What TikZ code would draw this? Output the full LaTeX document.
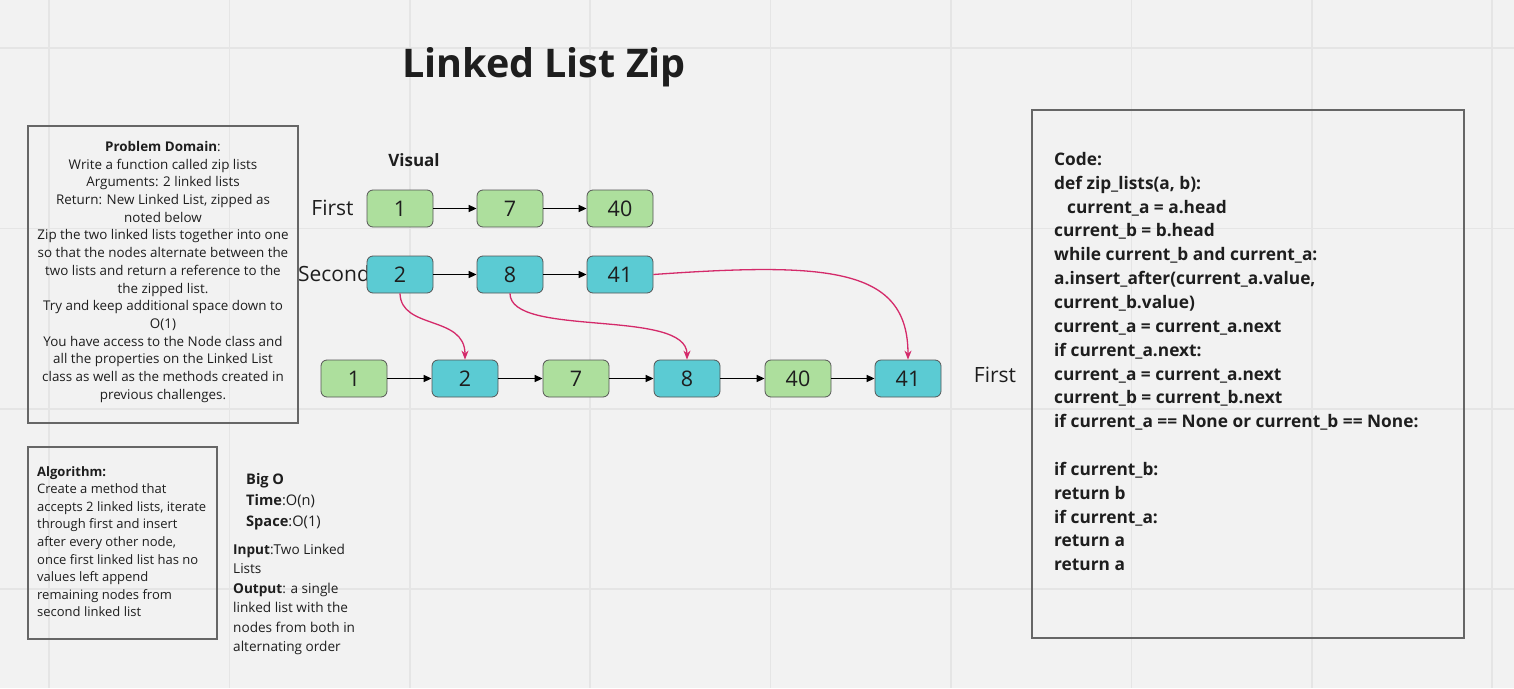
\documentclass[tikz,border=0pt]{standalone}
\usepackage{fontspec}
\setmainfont{Open Sans}
\usetikzlibrary{arrows.meta}
\definecolor{bg}{HTML}{F2F2F2}
\definecolor{gridc}{HTML}{E5E5E5}
\definecolor{gfill}{HTML}{ADDF9D}
\definecolor{cfill}{HTML}{5BCBD3}
\definecolor{nborder}{HTML}{555555}
\definecolor{bborder}{HTML}{666666}
\definecolor{pinkc}{HTML}{D42A6A}
\definecolor{txt}{HTML}{1E1E1E}
\tikzset{
  lnode/.style={draw=nborder, line width=0.8pt, rounded corners=6pt, minimum width=66pt, minimum height=37pt, inner sep=0pt, font=\fontsize{21.5}{24}\selectfont, text=txt},
  gnode/.style={lnode, fill=gfill},
  cnode/.style={lnode, fill=cfill},
  nxt/.style={-{Triangle[length=8pt,width=7pt]}, line width=1.5pt, black},
  zip/.style={-{Stealth[length=9pt,width=7pt]}, line width=1.3pt, pinkc},
  infobox/.style={draw=bborder, line width=1.2pt},
  lbl/.style={font=\fontsize{21}{24}\selectfont, text=txt, inner sep=0pt},
}
\begin{document}
\begin{tikzpicture}[x=1pt,y=-1pt]
\fill[bg] (0,0) rectangle (1514,688);
\useasboundingbox (0,0) rectangle (1514,688);
\foreach \gx in {49,229.4,409.8,590.2,770.6,951,1131.4,1311.8,1492.2}
  \draw[gridc, line width=1.5pt] (\gx,0) -- (\gx,688);
\foreach \gy in {48,228.4,408.8,589.2}
  \draw[gridc, line width=1.5pt] (0,\gy) -- (1514,\gy);

% title
\node[font=\fontsize{39.5}{46}\selectfont\bfseries, text=txt, inner sep=0pt] (title) at (544,67) {Linked List Zip};

% problem domain
\draw[infobox] (28,126) rectangle (298,423);
\node[anchor=north, align=center, inner sep=0pt, text=txt, font=\fontsize{13.4}{17.71}\selectfont] (prob) at (163,141) {%
\textbf{Problem Domain}:\\
Write a function called zip lists\\
Arguments: 2 linked lists\\
Return: New Linked List, zipped as\\
noted below\\
Zip the two linked lists together into one\\
so that the nodes alternate between the\\
two lists and return a reference to the\\
the zipped list.\\
Try and keep additional space down to\\
O(1)\\
You have access to the Node class and\\
all the properties on the Linked List\\
class as well as the methods created in\\
previous challenges.};

% algorithm
\draw[infobox] (28,447) rectangle (217,639);
\node[anchor=north west, align=left, inner sep=0pt, text=txt, font=\fontsize{13}{17.6}\selectfont] (algo) at (37,466) {%
\textbf{Algorithm:}\\
Create a method that\\
accepts 2 linked lists, iterate\\
through first and insert\\
after every other node,\\
once first linked list has no\\
values left append\\
remaining nodes from\\
second linked list};

% big O
\node[anchor=north west, align=left, inner sep=0pt, text=txt, font=\fontsize{14.6}{21}\selectfont] (bigo) at (246,473) {%
\textbf{Big O}\\
\textbf{Time}:O(n)\\
\textbf{Space}:O(1)};
\node[anchor=north west, align=left, inner sep=0pt, text=txt, font=\fontsize{13.6}{19.4}\selectfont] (io) at (233,544) {%
\textbf{Input}:Two Linked\\
Lists\\
\textbf{Output}: a single\\
linked list with the\\
nodes from both in\\
alternating order};

% visual
\node[font=\fontsize{17}{20}\selectfont\bfseries, text=txt, inner sep=0pt] (vis) at (414,160) {Visual};
\node[lbl] (first1) at (332.5,208) {First};
\node[lbl] (second) at (334,274) {Second};
\node[lbl] (first2) at (995,375) {First};

\node[gnode] (a1) at (400,208.5) {1};
\node[gnode] (a7) at (510,208.5) {7};
\node[gnode] (a40) at (620,208.5) {40};
\node[cnode] (b2) at (400,274.5) {2};
\node[cnode] (b8) at (510,274.5) {8};
\node[cnode] (b41) at (620,274.5) {41};
\draw[nxt] (a1) -- (a7);
\draw[nxt] (a7) -- (a40);
\draw[nxt] (b2) -- (b8);
\draw[nxt] (b8) -- (b41);

\node[gnode] (c1) at (354,378.5) {1};
\node[cnode] (c2) at (465,378.5) {2};
\node[gnode] (c7) at (576,378.5) {7};
\node[cnode] (c8) at (687,378.5) {8};
\node[gnode] (c40) at (798,378.5) {40};
\node[cnode] (c41) at (908,378.5) {41};
\draw[nxt] (c1) -- (c2);
\draw[nxt] (c2) -- (c7);
\draw[nxt] (c7) -- (c8);
\draw[nxt] (c8) -- (c40);
\draw[nxt] (c40) -- (c41);

\draw[zip] (b2.south) .. controls (401,330) and (465,315) .. (c2.north);
\draw[zip] (b8.south) .. controls (510,338) and (687,308) .. (c8.north);
\draw[zip] (b41.east) .. controls (830,262) and (908,268) .. (c41.north);

% code
\draw[infobox] (1032,110) rectangle (1464,638);
\node[anchor=north west, align=left, inner sep=0pt, text=txt, font=\fontsize{17.3}{23.85}\selectfont\bfseries] (code) at (1054,152) {%
Code:\\
def zip\_lists(a, b):\\
\hspace*{13pt}current\_a = a.head\\
current\_b = b.head\\
while current\_b and current\_a:\\
a.insert\_after(current\_a.value,\\
current\_b.value)\\
current\_a = current\_a.next\\
if current\_a.next:\\
current\_a = current\_a.next\\
current\_b = current\_b.next\\
if current\_a == None or current\_b == None:\\
\strut\\
if current\_b:\\
return b\\
if current\_a:\\
return a\\
return a};
\end{tikzpicture}
\end{document}
